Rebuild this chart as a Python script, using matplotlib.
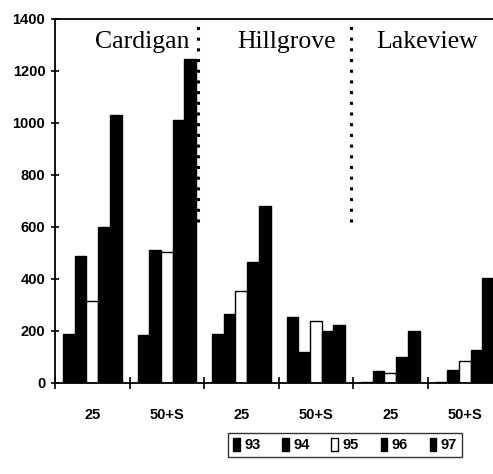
import matplotlib
matplotlib.use("Agg")
import matplotlib.pyplot as plt
from matplotlib.patches import Patch
import numpy as np

groups = ["25", "50+S", "25", "50+S", "25", "50+S"]
sites = ["Cardigan", "Hillgrove", "Lakeview"]
series = ["93", "94", "95", "96", "97"]
v93 = [190, 185, 190, 255, 3, 2]
v94 = [490, 510, 265, 120, 45, 50]
v95 = [315, 505, 352, 238, 38, 85]
v96 = [600, 1010, 465, 200, 100, 125]
v97 = [1030, 1245, 680, 222, 200, 405]
values = [v93, v94, v95, v96, v97]
face = ["black", "black", "white", "black", "black"]
yticks = [0, 200, 400, 600, 800, 1000, 1200, 1400]

fig = plt.figure(figsize=(4.93, 4.74), dpi=100)
ax = fig.add_axes([0.1116, 0.192, 0.9067, 0.768])

x = np.arange(len(groups))
bw = 0.157
for k, (vals, fc) in enumerate(zip(values, face)):
    ax.bar(x + (k - 2) * bw, vals, width=bw, color=fc, edgecolor="black",
           linewidth=1.0, label=series[k])

ax.set_xlim(-0.5, 5.5)
ax.set_ylim(0, 1400)

for s in ["left", "top", "bottom"]:
    ax.spines[s].set_linewidth(1.3)
ax.spines["right"].set_visible(False)

ax.set_yticks(yticks)
ax.set_yticklabels([str(t) for t in yticks], fontfamily="Liberation Sans",
                   fontweight="bold", fontsize=10.5)
ax.tick_params(axis="y", direction="inout", length=6, width=1.2, pad=4)

ax.set_xticks(np.arange(-0.5, 5.6, 1.0))
ax.set_xticklabels([])
ax.tick_params(axis="x", which="major", direction="inout", length=9, width=1.2)
ax.set_xticks(x, minor=True)
ax.set_xticklabels(groups, minor=True, fontfamily="Liberation Sans",
                   fontweight="bold", fontsize=10.5)
ax.tick_params(axis="x", which="minor", length=0, pad=18)

# dotted separators
for xs in [1.42, 3.47]:
    ax.plot([xs, xs], [620, 1400], linestyle=(0, (1, 2.5)), color="black",
            linewidth=2.2, clip_on=False)

site_x = [0.67, 2.61, 4.49]
for sx, name in zip(site_x, sites):
    ax.text(sx, 1311, name, ha="center", va="center", fontfamily="Liberation Serif",
            fontsize=18.5)

leg = fig.legend(handles=[Patch(facecolor=fc, edgecolor="black", linewidth=1.0)
                          for fc in face],
                 labels=series, loc="center", bbox_to_anchor=(345 / 493, 1 - 445 / 474),
                 ncol=5, frameon=True, fancybox=False, handlelength=0.45,
                 handleheight=1.0, handletextpad=0.3, columnspacing=1.5,
                 borderpad=0.35, prop={"family": "Liberation Sans", "weight": "bold",
                                       "size": 10.5})
leg.get_frame().set_edgecolor("black")
leg.get_frame().set_linewidth(1.0)

fig.savefig("out.png", dpi=100)
